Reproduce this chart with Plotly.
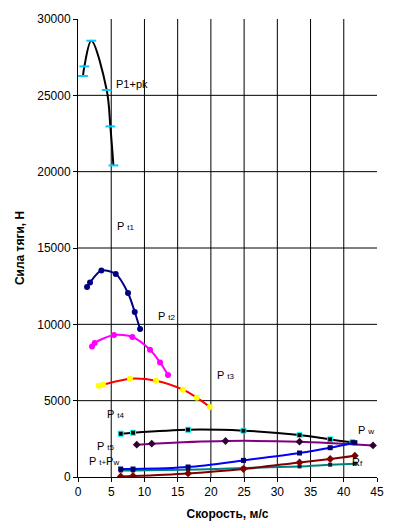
import plotly.graph_objects as go

# P1+pk
x_p1 = [0.75, 0.96, 2.0, 4.32, 4.87, 5.33]
y_p1 = [26266, 26894, 28578, 25350, 22965, 20410]
# P t1
x_t1 = [1.36, 1.81, 3.52, 5.68, 7.53, 8.54, 9.34]
y_t1 = [12445, 12746, 13532, 13296, 12052, 10807, 9694]
# P t2
x_t2 = [2.11, 2.51, 5.42, 8.19, 10.84, 12.35, 13.55]
y_t2 = [8554, 8777, 9301, 9170, 8338, 7506, 6681]
# P t3
x_t3 = [3.12, 3.77, 7.83, 11.75, 15.81, 17.88, 19.83]
y_t3 = [5980, 6046, 6439, 6308, 5718, 5194, 4585]
# P t4
x_t4 = [6.43, 8.28, 16.57, 24.9, 33.34, 37.95, 41.3]
y_t4 = [2836, 2902, 3098, 3033, 2751, 2463, 2280]
# P t5
x_t5 = [8.84, 11.1, 22.2, 33.34, 44.4]
y_t5 = [2116, 2181, 2358, 2312, 2070]
# P t + Pw
x_tw = [6.43, 8.28, 16.57, 24.9, 33.34, 37.95, 41.67]
y_tw = [524, 524, 655, 1087, 1572, 1919, 2247]
# Teal
x_te = [6.43, 8.28, 16.57, 24.9, 33.34, 37.95, 41.67]
y_te = [420, 430, 478, 590, 694, 806, 871]
# Rf
x_rf = [6.43, 8.28, 16.57, 24.9, 33.34, 37.95, 41.67]
y_rf = [39, 65, 236, 524, 956, 1179, 1395]

x_ticks = [0, 5, 10, 15, 20, 25, 30, 35, 40, 45]
x_ticktext = ["0", "5", "10", "15", "20", "25", "30", "35", "40", "45"]
y_ticks = [0, 5000, 10000, 15000, 20000, 25000, 30000]
y_ticktext = ["0", "5000", "10000", "15000", "20000", "25000", "30000"]

labels = [
    ("P1+pk", 5.39, 25760),
    ("P <span style='font-size:8px'>t1</span>", 5.54, 16460),
    ("P <span style='font-size:8px'>t2</span>", 11.7, 10565),
    ("P <span style='font-size:8px'>t3</span>", 20.6, 6700),
    ("P <span style='font-size:8px'>t4</span>", 4.0, 4146),
    ("P <span style='font-size:8px'>t5</span>", 2.5, 2050),
    ("P <span style='font-size:8px'>t+</span>P<span style='font-size:8px'>w</span>", 1.3, 1070),
    ("P <span style='font-size:8px'>w</span>", 41.8, 3100),
    ("R<span style='font-size:8px'>f</span>", 41.0, 1000),
]

fig = go.Figure()

def add(x, y, lc, mc, sym, size=6, mlc=None, mlw=0, smooth=0.8):
    fig.add_trace(go.Scatter(
        x=x, y=y, mode="lines+markers",
        line=dict(color=lc, width=2, shape="spline", smoothing=smooth),
        marker=dict(color=mc, symbol=sym, size=size,
                    line=dict(color=mlc if mlc else mc, width=mlw)),
        showlegend=False, hoverinfo="x+y"))

add(x_p1, y_p1, "#000000", "#00CCFF", "line-ew", size=7, mlc="#00CCFF", mlw=2, smooth=1.0)
add(x_t1, y_t1, "#000080", "#000080", "circle", size=6)
add(x_t2, y_t2, "#FF00FF", "#FF00FF", "circle", size=6)
add(x_t3, y_t3, "#FF0000", "#FFFF00", "circle", size=6)
add(x_t4, y_t4, "#000000", "#000000", "square", size=5, mlc="#00FFFF", mlw=1)
add(x_t5, y_t5, "#800080", "#300030", "diamond", size=6)
add(x_te, y_te, "#008080", "#102020", "square", size=4)
add(x_rf, y_rf, "#800000", "#800000", "diamond", size=6)
add(x_tw, y_tw, "#0000FF", "#000060", "square", size=5)

# interior gridlines (no grid line on the top / right edges)
for xv in x_ticks[1:-1]:
    fig.add_shape(type="line", xref="x", yref="paper", x0=xv, x1=xv, y0=0, y1=1,
                  line=dict(color="black", width=1), layer="below")
for yv in y_ticks[1:-1]:
    fig.add_shape(type="line", xref="paper", yref="y", x0=0, x1=1, y0=yv, y1=yv,
                  line=dict(color="black", width=1), layer="below")

for txt, x, y in labels:
    fig.add_annotation(x=x, y=y, text=txt, showarrow=False, xanchor="left",
                       yanchor="middle",
                       font=dict(family="Liberation Sans, Arial", size=11, color="#000000"))

fig.update_layout(
    width=389, height=520,
    margin=dict(l=70, r=20, t=11, b=51),
    paper_bgcolor="white", plot_bgcolor="white",
    font=dict(family="Liberation Sans, Arial", size=11, color="#000000"),
    xaxis=dict(range=[0, 45], tickvals=x_ticks, ticktext=x_ticktext,
               ticks="outside", ticklen=4, automargin=False,
               tickcolor="black", showline=True, linecolor="black", linewidth=1,
               showgrid=False, zeroline=False,
               title=dict(text="<b>Скорость, м/с</b>", font=dict(size=12), standoff=11),
               tickfont=dict(size=12)),
    yaxis=dict(range=[0, 30000], tickvals=y_ticks, ticktext=y_ticktext,
               ticks="outside", ticklen=4, automargin=False,
               tickcolor="black", showline=True, linecolor="black", linewidth=1,
               showgrid=False, zeroline=False,
               title=dict(text="<b>Сила тяги, Н</b>", font=dict(size=12), standoff=10),
               tickfont=dict(size=12)),
)

fig.write_html("out.html")
